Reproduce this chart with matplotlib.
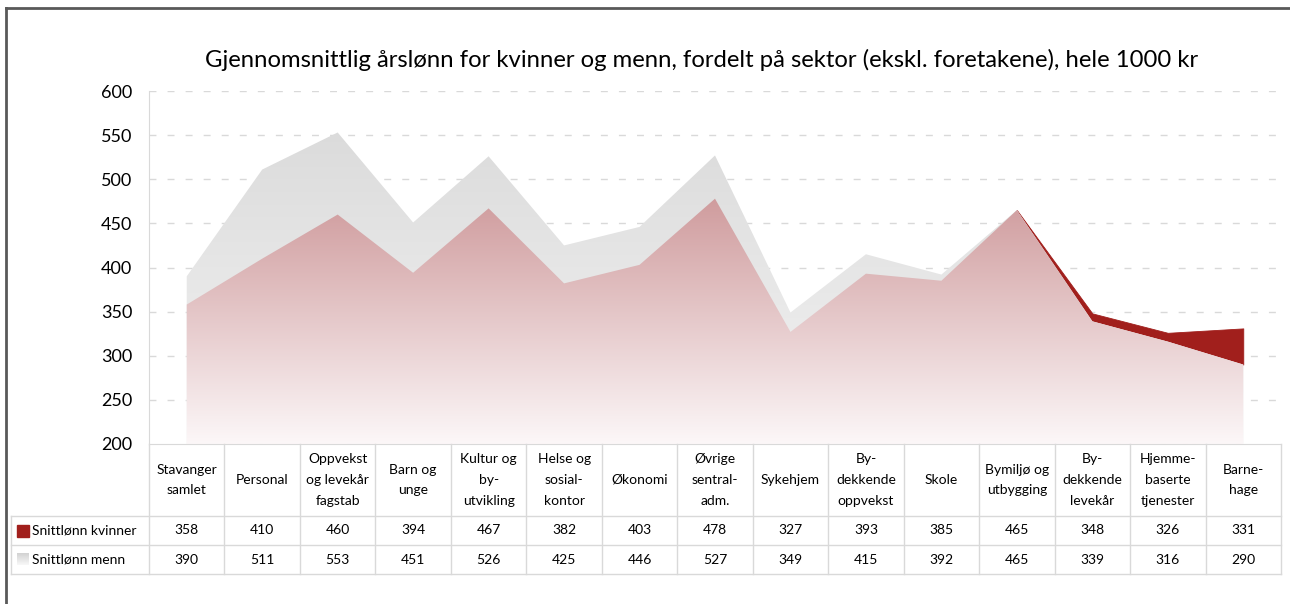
import matplotlib
matplotlib.use("Agg")
import matplotlib.pyplot as plt
from matplotlib.lines import Line2D
from matplotlib.patches import Rectangle
import numpy as np

plt.rcParams["font.family"] = ["Lato", "DejaVu Sans"]

# data
categories = ["Stavanger\nsamlet", "Personal", "Oppvekst\nog levekår\nfagstab",
              "Barn og\nunge", "Kultur og\nby-\nutvikling", "Helse og\nsosial-\nkontor",
              "Økonomi", "Øvrige\nsentral-\nadm.", "Sykehjem", "By-\ndekkende\noppvekst",
              "Skole", "Bymiljø og\nutbygging", "By-\ndekkende\nlevekår",
              "Hjemme-\nbaserte\ntjenester", "Barne-\nhage"]
kvinner = [358, 410, 460, 394, 467, 382, 403, 478, 327, 393, 385, 465, 348, 326, 331]
menn = [390, 511, 553, 451, 526, 425, 446, 527, 349, 415, 392, 465, 339, 316, 290]
series_names = ["Snittlønn kvinner", "Snittlønn menn"]
yticks = [200, 250, 300, 350, 400, 450, 500, 550, 600]
title = "Gjennomsnittlig årslønn for kvinner og menn, fordelt på sektor (ekskl. foretakene), hele 1000 kr"

W, H = 1290, 604
RED = "#A11F1C"
GRID = "#D9D9D9"


def fx(px):
    return px / W


def fy(py):
    return 1 - py / H


def gradient(top, bottom, n=256):
    t = np.linspace(0, 1, n)[:, None, None]
    top = np.array(top)[None, None, :] / 255
    bottom = np.array(bottom)[None, None, :] / 255
    return top * (1 - t) + bottom * t


fig = plt.figure(figsize=(W / 100, H / 100), dpi=100)

# outer frame (top and left only)
fig.add_artist(Line2D([fx(6), 1], [fy(8), fy(8)], color="#595959", lw=2))
fig.add_artist(Line2D([fx(6), fx(6)], [0, fy(8)], color="#595959", lw=2))

fig.text(fx(702), fy(60), title, ha="center", va="center", fontsize=17.2)

# main plot area
ax = fig.add_axes([fx(149), fy(444), fx(1281) - fx(149), fy(91) - fy(444)])
x = np.arange(len(categories))
ax.set_xlim(-0.5, len(categories) - 0.5)
ax.set_ylim(200, 600)
ext = (-0.5, len(categories) - 0.5, 200, 600)

for yv in yticks[1:]:
    ax.axhline(yv, color=GRID, lw=1, ls=(0, (5, 8)), zorder=0)

k_arr = np.array(kvinner)
m_arr = np.array(menn)

# dark red: the part where women earn more than men
ax.fill_between(x, m_arr, k_arr, where=k_arr >= m_arr, interpolate=True,
                color=RED, lw=0.6, edgecolor=RED, zorder=1)

# grey gradient for men
poly_m = ax.fill_between(x, 200, menn, facecolor="none", lw=0, zorder=2)
im_m = ax.imshow(gradient((216, 216, 216), (244, 244, 244)), extent=ext,
                 aspect="auto", origin="upper", zorder=2)
im_m.set_clip_path(poly_m.get_paths()[0], transform=ax.transData)

# pink gradient for the common part
low = np.minimum(k_arr, m_arr)
poly_k = ax.fill_between(x, 200, low, facecolor="none", lw=0, zorder=3)
im_k = ax.imshow(gradient((188, 116, 118), (252, 247, 248)), extent=ext,
                 aspect="auto", origin="upper", zorder=3)
im_k.set_clip_path(poly_k.get_paths()[0], transform=ax.transData)

ax.set_yticks(yticks)
ax.set_yticklabels([str(v) for v in yticks], fontsize=13)
ax.set_xticks([])
ax.tick_params(axis="y", length=0, pad=12)
for s in ["top", "right"]:
    ax.spines[s].set_visible(False)
ax.spines["left"].set_color(GRID)
ax.spines["bottom"].set_color(GRID)
ax.spines["left"].set_zorder(5)
ax.spines["bottom"].set_zorder(5)

# data table underneath
at = fig.add_axes([fx(149), fy(574), fx(1281) - fx(149), fy(444) - fy(574)])
at.set_xlim(-0.5, len(categories) - 0.5)
at.set_ylim(130, 0)
at.axis("off")
colw = (1281 - 149) / len(categories)
xl = -0.5 - (149 - 11) / colw

for k in range(len(categories) + 1):
    at.plot([k - 0.5, k - 0.5], [0, 130], color=GRID, lw=1, clip_on=False)
at.plot([xl, xl], [72, 130], color=GRID, lw=1, clip_on=False)
for yy in [72, 101, 130]:
    at.plot([xl, len(categories) - 0.5], [yy, yy], color=GRID, lw=1, clip_on=False)

for i, c in enumerate(categories):
    at.text(i, 36, c, ha="center", va="center", fontsize=10, linespacing=1.9)
    at.text(i, 86.5, str(kvinner[i]), ha="center", va="center", fontsize=10)
    at.text(i, 115.5, str(menn[i]), ha="center", va="center", fontsize=10)

# legend keys in the table
kw = 12 / colw
at.add_patch(Rectangle((xl + 6 / colw, 80.5), kw, 12, color=RED, clip_on=False))
key = at.imshow(gradient((210, 210, 210), (248, 248, 248)),
                extent=(xl + 6 / colw, xl + 6 / colw + kw, 121.5, 109.5),
                aspect="auto", origin="upper")
key.set_clip_on(False)
at.set_xlim(-0.5, len(categories) - 0.5)
at.set_ylim(130, 0)
at.text(xl + 21 / colw, 86.5, series_names[0], ha="left", va="center", fontsize=10)
at.text(xl + 21 / colw, 115.5, series_names[1], ha="left", va="center", fontsize=10)

fig.savefig("out.png", dpi=100)
